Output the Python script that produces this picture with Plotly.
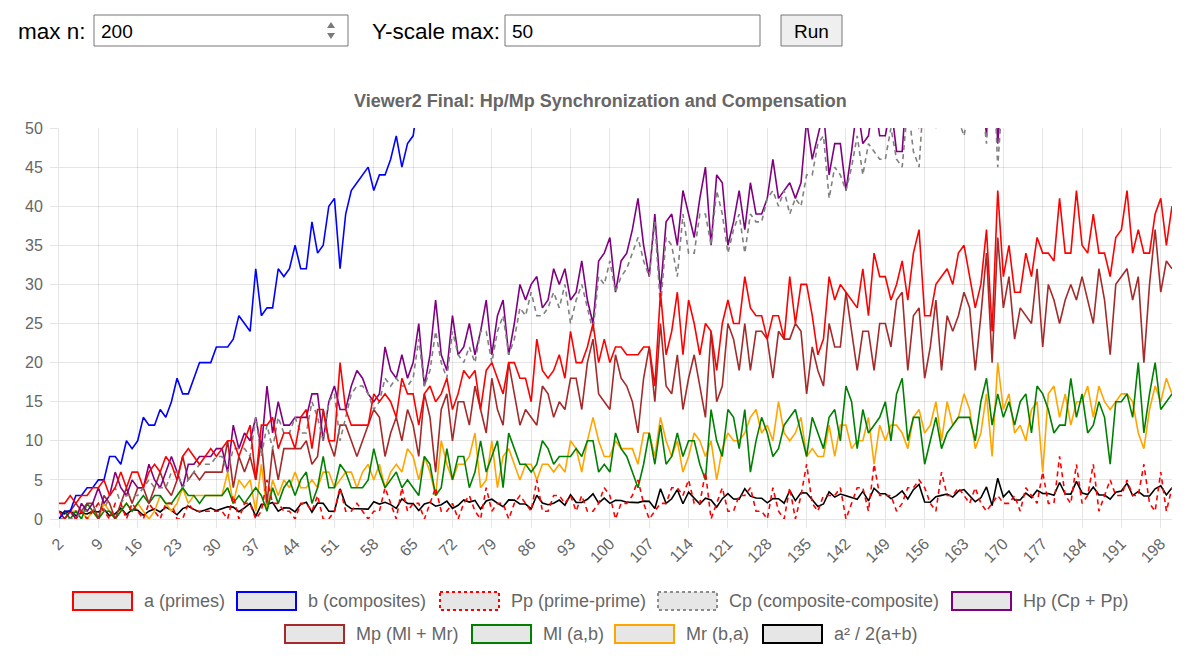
import plotly.graph_objects as go

# ---------------- data ----------------
n_values = list(range(2, 201))
x_tick_labels = [str(v) for v in range(2, 199, 7)]
y_tick_labels = ["0", "5", "10", "15", "20", "25", "30", "35", "40", "45", "50"]

a_primes = [
    2, 2, 3, 2, 3, 3, 4, 4, 5, 3, 4, 6, 4, 6, 6, 4, 6, 7, 6, 8,
    7, 5, 8, 9, 8, 7, 8, 9, 8, 9, 10, 10, 8, 10, 12, 5, 12, 12, 13, 9,
    11, 11, 9, 13, 14, 9, 14, 14, 10, 10, 20, 14, 12, 12, 12, 12, 16, 15, 16, 15,
    13, 18, 16, 16,
    12, 16, 17, 15, 16, 18, 14, 16, 19, 18,
    19, 14, 19, 20, 18, 16, 20, 20, 18, 18,
    15, 23, 19, 18, 19, 21, 18, 24, 20, 20,
    22, 25, 20, 23, 20, 22, 22, 21, 21, 21,
    22, 22, 17, 29, 21, 24, 29, 21, 28, 25,
    21, 25, 24, 19, 25, 28, 25, 25, 31, 27,
    26, 26, 23, 26, 26, 23, 31, 25, 30, 30,
    26, 21, 23, 31, 28, 30, 29, 28, 27, 32,
    26, 34, 31, 31, 28, 30, 33, 28, 34, 37,
    26, 26, 30, 31, 32, 30, 34, 35, 31, 27,
    30, 37, 24, 42, 31, 35, 29, 29, 34, 31,
    36, 34, 34, 33, 41, 34, 34, 42, 35, 34,
    39, 34, 34, 31, 36, 37, 42, 34, 37, 34,
    34, 39, 41, 35, 40,
]

b_composites = [
    0, 1, 1, 3, 3, 4, 4, 5, 5, 8, 8, 7, 10, 9, 10, 13, 12, 12, 14, 13,
    15, 18, 16, 16, 18, 20, 20, 20, 22, 22, 22, 23, 26, 25, 24, 32, 26, 27, 27, 32,
    31, 32, 35, 32, 32, 38, 34, 35, 40, 41, 32, 39, 42, 43, 44, 45, 42, 44, 44, 46,
    49, 45, 48, 49,
    54, 51, 51, 54, 54, 53, 58, 57, 55, 57,
    57, 63, 59, 59, 62, 65, 62, 63, 66, 67,
    71, 64, 69, 71, 71, 70, 74, 69, 74, 75,
    74, 72, 78, 76, 80, 79, 80, 82, 83, 84,
    84, 85, 91, 80, 89, 87, 83, 92, 86, 90,
    95, 92, 94, 100, 95, 93, 97, 98, 93, 98,
    100, 101, 105, 103, 104, 108, 101, 108, 104, 105,
    110, 116, 115, 108, 112, 111, 113, 115, 117, 113,
    120, 113, 117, 118, 122, 121, 119, 125, 120, 118,
    130, 131, 128, 128, 128, 131, 128, 128, 133, 138,
    136, 130, 144, 127, 139, 136, 143, 144, 140, 144,
    140, 143, 144, 146, 139, 147, 148, 141, 149, 151,
    147, 153, 154, 158, 154, 154, 150, 159, 157, 161,
    162, 158, 157, 164, 160,
]

pp_prime_prime = [
    1, 0, 1, 0, 1, 0, 1, 2, 1, 0, 2, 2, 0, 2, 1, 0, 2, 1, 0, 2,
    2, 0, 0, 2, 1, 1, 1, 1, 1, 1, 0, 3, 0, 2, 2, 0, 1, 5, 2, 2,
    1, 1, 0, 2, 2, 1, 3, 0, 0, 1, 4, 1, 1, 2, 1, 0, 1, 1, 4, 2,
    0, 4, 1, 2,
    2, 0, 2, 4, 1, 1, 2, 0, 2, 3,
    1, 0, 4, 1, 2, 2, 0, 2, 3, 2,
    1, 5, 1, 1, 3, 3, 2, 3, 1, 3,
    1, 1, 2, 4, 3, 0, 2, 2, 3, 5,
    2, 0, 1, 2, 2, 4, 4, 3, 5, 2,
    2, 6, 0, 2, 4, 1, 1, 3, 3, 4,
    1, 1, 0, 4, 1, 0, 4, 0, 3, 7,
    2, 1, 3, 3, 3, 4, 0, 2, 4, 4,
    1, 7, 3, 3, 3, 1, 2, 4, 4, 5,
    4, 2, 1, 6, 3, 3, 4, 3, 2, 4,
    2, 1, 2, 3, 2, 2, 3, 1, 4, 3,
    2, 6, 2, 2, 8, 3, 2, 7, 2, 3,
    7, 1, 3, 5, 3, 3, 5, 3, 3, 7,
    2, 1, 6, 1, 4,
]

cp_comp_comp = [
    0, 0, 0, 0, 1, 1, 1, 2, 1, 3, 4, 2, 3, 3, 3, 4, 5, 4, 4, 4,
    6, 6, 4, 5, 6, 7, 7, 7, 8, 8, 6, 9, 9, 9, 8, 13, 8, 12, 9, 13,
    11, 11, 13, 11, 11, 15, 13, 10, 15, 16, 10, 13, 16, 17, 17, 16, 14, 15, 18, 17,
    18, 17, 17, 18,
    23, 17, 19, 24, 20, 18, 24, 21, 20, 22,
    20, 24, 24, 20, 24, 26, 21, 23, 27, 26,
    29, 26, 26, 27, 29, 27, 30, 25, 28, 30,
    27, 24, 31, 30, 33, 29, 31, 32, 34, 36,
    33, 31, 38, 27, 36, 35, 31, 39, 34, 34,
    39, 39, 35, 42, 39, 34, 37, 39, 34, 39,
    38, 38, 41, 42, 40, 42, 39, 41, 40, 44,
    44, 48, 49, 41, 45, 44, 42, 45, 49, 44,
    48, 47, 46, 46, 50, 46, 45, 53, 47, 45,
    56, 54, 50, 54, 51, 53, 51, 49, 53, 59,
    55, 48, 62, 45, 56, 52, 60, 58, 57, 59,
    54, 60, 57, 59, 57, 59, 59, 56, 59, 61,
    61, 60, 63, 68, 62, 61, 59, 65, 63, 70,
    66, 60, 64, 65, 64,
]

hp_homog = [
    1, 0, 1, 0, 2, 1, 2, 4, 2, 3, 6, 4, 3, 5, 4, 4, 7, 5, 4, 6,
    8, 6, 4, 7, 7, 8, 8, 8, 9, 9, 6, 12, 9, 11, 10, 13, 9, 17, 11, 15,
    12, 12, 13, 13, 13, 16, 16, 10, 15, 17, 14, 14, 17, 19, 18, 16, 15, 16, 22, 19,
    18, 21, 18, 20,
    25, 17, 21, 28, 21, 19, 26, 21, 22, 25,
    21, 24, 28, 21, 26, 28, 21, 25, 30, 28,
    30, 31, 27, 28, 32, 30, 32, 28, 29, 33,
    28, 25, 33, 34, 36, 29, 33, 34, 37, 41,
    35, 31, 39, 29, 38, 39, 35, 42, 39, 36,
    41, 45, 35, 44, 43, 35, 38, 42, 37, 43,
    39, 39, 41, 46, 41, 42, 43, 41, 43, 51,
    46, 49, 52, 44, 48, 48, 42, 47, 53, 48,
    49, 54, 49, 49, 53, 47, 47, 57, 51, 50,
    60, 56, 51, 60, 54, 56, 55, 52, 55, 63,
    57, 49, 64, 48, 58, 54, 63, 59, 61, 62,
    56, 66, 59, 61, 65, 62, 61, 63, 61, 64,
    68, 61, 66, 73, 65, 64, 64, 68, 66, 77,
    68, 61, 70, 66, 68,
]

mp_mixed = [
    0, 1, 1, 2, 1, 2, 2, 0, 3, 2, 0, 2, 4, 2, 4, 4, 2, 4, 6, 4,
    3, 5, 8, 5, 6, 5, 6, 6, 6, 6, 10, 4, 8, 6, 8, 5, 10, 2, 9, 5,
    9, 9, 9, 9, 10, 7, 8, 14, 10, 8, 12, 12, 10, 8, 10, 12, 14, 13, 8, 11,
    13, 10, 14, 12,
    8, 16, 13, 6, 14, 16, 10, 15, 15, 12,
    17, 14, 11, 18, 14, 12, 20, 16, 12, 14,
    13, 12, 17, 16, 13, 15, 14, 18, 18, 14,
    20, 23, 16, 15, 14, 21, 18, 17, 15, 11,
    18, 22, 15, 25, 17, 16, 21, 14, 18, 21,
    17, 13, 24, 15, 17, 25, 23, 19, 25, 19,
    24, 24, 23, 18, 24, 23, 23, 25, 24, 16,
    22, 19, 17, 25, 22, 22, 29, 24, 19, 24,
    24, 19, 25, 25, 22, 28, 29, 19, 26, 27,
    18, 22, 28, 19, 26, 24, 26, 29, 27, 19,
    26, 34, 20, 36, 27, 31, 23, 27, 26, 25,
    32, 22, 30, 28, 25, 28, 30, 28, 31, 28,
    25, 32, 28, 21, 30, 31, 32, 28, 31, 20,
    30, 37, 29, 33, 32,
]

ml_ab = [
    0, 1, 0, 1, 0, 2, 1, 0, 1, 1, 0, 1, 2, 1, 2, 3, 2, 3, 3, 2,
    2, 3, 4, 3, 3, 2, 3, 3, 3, 3, 4, 2, 3, 2, 3, 4, 3, 1, 4, 2,
    4, 5, 3, 5, 6, 2, 4, 8, 4, 4, 7, 6, 4, 4, 4, 5, 9, 6, 4, 5,
    6, 4, 5, 4,
    3, 8, 7, 3, 4, 9, 5, 8, 8, 4,
    6, 10, 6, 8, 10, 4, 11, 9, 7, 7,
    6, 7, 10, 9, 7, 8, 8, 8, 9, 8,
    10, 10, 6, 7, 6, 11, 9, 8, 6, 4,
    7, 11, 7, 12, 7, 8, 11, 8, 10, 10,
    7, 5, 14, 10, 8, 14, 13, 9, 14, 6,
    10, 13, 11, 8, 9, 12, 13, 14, 11, 8,
    13, 11, 9, 13, 14, 10, 17, 15, 9, 14,
    11, 12, 13, 15, 10, 16, 18, 10, 13, 13,
    7, 10, 13, 9, 11, 12, 13, 13, 13, 10,
    15, 18, 12, 16, 13, 15, 12, 15, 16, 11,
    17, 16, 14, 11, 12, 12, 18, 13, 16, 11,
    12, 15, 13, 7, 15, 15, 16, 13, 20, 11,
    16, 20, 14, 15, 16,
]

mr_ba = [
    0, 0, 1, 1, 1, 0, 1, 0, 2, 1, 0, 1, 2, 1, 2, 1, 0, 1, 3, 2,
    1, 2, 4, 2, 3, 3, 3, 3, 3, 3, 6, 2, 5, 4, 5, 1, 7, 1, 5, 3,
    5, 4, 6, 4, 4, 5, 4, 6, 6, 4, 5, 6, 6, 4, 6, 7, 5, 7, 4, 6,
    7, 6, 9, 8,
    5, 8, 6, 3, 10, 7, 5, 7, 7, 8,
    11, 4, 5, 10, 4, 8, 9, 7, 5, 7,
    7, 5, 7, 7, 6, 7, 6, 10, 9, 6,
    10, 13, 10, 8, 8, 10, 9, 9, 9, 7,
    11, 11, 8, 13, 10, 8, 10, 6, 8, 11,
    10, 8, 10, 5, 9, 11, 10, 10, 11, 13,
    14, 11, 12, 10, 15, 11, 10, 11, 13, 8,
    9, 8, 8, 12, 8, 12, 12, 9, 10, 10,
    13, 7, 12, 10, 12, 12, 11, 9, 13, 14,
    11, 12, 15, 10, 15, 12, 13, 16, 14, 9,
    11, 16, 8, 20, 14, 16, 11, 12, 10, 14,
    15, 6, 16, 17, 13, 16, 12, 15, 15, 17,
    13, 17, 15, 14, 15, 16, 16, 15, 11, 9,
    14, 17, 15, 18, 16,
]

ratio_a2 = [
    1.00, 0.67, 1.13, 0.40, 0.75, 0.64, 1.00, 0.89, 1.25, 0.41,
    0.67, 1.38, 0.57, 1.20, 1.13, 0.47, 1.00, 1.29, 0.90, 1.52,
    1.11, 0.54, 1.33, 1.62, 1.23, 0.91, 1.14, 1.40, 1.07, 1.31,
    1.56, 1.52, 0.94, 1.43, 2.00, 0.34, 1.89, 1.85, 2.11, 0.99,
    1.44, 1.41, 0.92, 1.88, 2.13, 0.86, 2.04, 2.00, 1.00, 0.98,
    3.85, 1.85, 1.33, 1.31, 1.29, 1.26, 2.21, 1.91, 2.13, 1.84,
    1.36, 2.57, 2.00, 1.97,
    1.09, 1.91, 2.13, 1.63, 1.83, 2.28, 1.36, 1.75, 2.44, 2.16,
    2.38, 1.27, 2.31, 2.53, 2.03, 1.58, 2.44, 2.41, 1.93, 1.91,
    1.31, 3.04, 2.05, 1.82, 2.01, 2.42, 1.76, 3.10, 2.13, 2.11,
    2.52, 3.22, 2.04, 2.67, 2.00, 2.40, 2.37, 2.14, 2.12, 2.10,
    2.28, 2.26, 1.34, 3.86, 2.00, 2.59, 3.75, 1.95, 3.44, 2.72,
    1.90, 2.67, 2.44, 1.52, 2.60, 3.24, 2.56, 2.54, 3.88, 2.92,
    2.68, 2.66, 2.07, 2.62, 2.60, 2.02, 3.64, 2.35, 3.36, 3.33,
    2.49, 1.61, 1.92, 3.46, 2.80, 3.19, 2.96, 2.74, 2.53, 3.53,
    2.32, 3.93, 3.25, 3.22, 2.61, 2.98, 3.58, 2.56, 3.75, 4.42,
    2.17, 2.15, 2.85, 3.02, 3.20, 2.80, 3.57, 3.76, 2.93, 2.21,
    2.71, 4.10, 1.71, 5.22, 2.83, 3.58, 2.44, 2.43, 3.32, 2.75,
    3.68, 3.27, 3.25, 3.04, 4.67, 3.19, 3.18, 4.82, 3.33, 3.12,
    4.09, 3.09, 3.07, 2.54, 3.41, 3.58, 4.59, 2.99, 3.53, 2.96,
    2.95, 3.86, 4.24, 3.08, 4.00,
]

series_names = ["a (primes)", "b (composites)", "Pp (prime-prime)",
                "Cp (composite-composite)", "Hp (Cp + Pp)", "Mp (Ml + Mr)",
                "Ml (a,b)", "Mr (b,a)", "a\u00b2 / 2(a+b)"]

# ---------------- layout geometry (pixels) ----------------
W, H = 1191, 658
L_PX, R_PX, T_PX, B_PX = 59, 1172, 128, 519
FONT = "Liberation Sans, Arial, Helvetica, sans-serif"
GRID = "rgba(0,0,0,0.1)"
TXT = "#666666"


def fx(x):
    return (x - L_PX) / (R_PX - L_PX)


def fy(y):
    return (B_PX - y) / (B_PX - T_PX)


fig = go.Figure()

styles = [
    # (values, name, color, dash) in draw order: first dataset ends on top
    (ratio_a2, series_names[8], "#000000", None),
    (mr_ba, series_names[7], "#ffa500", None),
    (ml_ab, series_names[6], "#008000", None),
    (mp_mixed, series_names[5], "#a52a2a", None),
    (hp_homog, series_names[4], "#800080", None),
    (cp_comp_comp, series_names[3], "#808080", "5px,4px"),
    (pp_prime_prime, series_names[2], "#ff0000", "5px,4px"),
    (b_composites, series_names[1], "#0000ff", None),
    (a_primes, series_names[0], "#ff0000", None),
]
for vals, name, color, dash in styles:
    line = dict(color=color, width=1.6)
    if dash:
        line["dash"] = dash
    fig.add_trace(go.Scatter(x=n_values, y=vals, name=name, mode="lines",
                             line=line, hoverinfo="skip", showlegend=False))

shapes = []
annotations = []

# title
annotations.append(dict(x=fx(600), y=fy(101), xref="paper", yref="paper",
                        text="<b>Viewer2 Final: Hp/Mp Synchronization and Compensation</b>",
                        showarrow=False, xanchor="center", yanchor="middle",
                        font=dict(family=FONT, size=18, color=TXT)))

# custom legend (boxes + labels)
legend_items = [
    (series_names[0], "#ff0000", "solid", 73, 601),
    (series_names[1], "#0000ff", "solid", 237, 601),
    (series_names[2], "#ff0000", "dot", 440, 601),
    (series_names[3], "#8c8c8c", "dot", 658, 601),
    (series_names[4], "#800080", "solid", 952, 601),
    (series_names[5], "#a52a2a", "solid", 285, 634),
    (series_names[6], "#008000", "solid", 472, 634),
    (series_names[7], "#ffa500", "solid", 615, 634),
    (series_names[8], "#000000", "solid", 763, 634),
]
for name, color, dash, x0, yc in legend_items:
    shapes.append(dict(type="rect", xref="paper", yref="paper",
                       x0=fx(x0), x1=fx(x0 + 59), y0=fy(yc - 9), y1=fy(yc + 9),
                       fillcolor="#e6e6e6",
                       line=dict(color=color, width=2, dash=dash), layer="above"))
    annotations.append(dict(x=fx(x0 + 69), y=fy(yc), xref="paper", yref="paper",
                            text=name, showarrow=False, xanchor="left", yanchor="middle",
                            font=dict(family=FONT, size=18, color=TXT)))

# top controls (form row)
def box(x0, x1, y0, y1, fill, border):
    shapes.append(dict(type="rect", xref="paper", yref="paper",
                       x0=fx(x0), x1=fx(x1), y0=fy(y1), y1=fy(y0),
                       fillcolor=fill, line=dict(color=border, width=1)))


def label(x, y, text, size, anchor="left", color="#000000"):
    annotations.append(dict(x=fx(x), y=fy(y), xref="paper", yref="paper", text=text,
                            showarrow=False, xanchor=anchor, yanchor="middle",
                            font=dict(family=FONT, size=size, color=color)))


label(16, 31, "max n:", 22.5)
box(94, 348, 15, 46, "#ffffff", "#767676")
label(99, 31, "200", 19)
label(370, 31, "Y-scale max:", 22.5)
box(505, 760, 15, 46, "#ffffff", "#767676")
label(510, 31, "50", 19)
box(781, 842, 15, 46, "#efefef", "#767676")
label(811.5, 31, "Run", 19, anchor="center")


def tri(points):
    p = "M " + " L ".join(f"{fx(x):.5f},{fy(y):.5f}" for x, y in points) + " Z"
    shapes.append(dict(type="path", xref="paper", yref="paper", path=p,
                       fillcolor="#7a7a7a", line=dict(width=0)))


tri([(327, 28), (335, 28), (331, 22)])
tri([(327, 33), (335, 33), (331, 39)])

fig.update_layout(
    width=W, height=H, autosize=False,
    margin=dict(l=L_PX, r=W - R_PX, t=T_PX, b=H - B_PX, pad=0),
    paper_bgcolor="#ffffff", plot_bgcolor="#ffffff",
    font=dict(family=FONT, size=16, color=TXT),
    shapes=shapes, annotations=annotations,
    showlegend=False,
    xaxis=dict(range=[2, 200], tickmode="array",
               tickvals=[int(t) for t in x_tick_labels], ticktext=x_tick_labels,
               tickangle=-45, showgrid=True, gridcolor=GRID, gridwidth=1,
               ticks="outside", ticklen=8, tickcolor=GRID,
               showline=True, linecolor=GRID, linewidth=1, zeroline=False,
               tickfont=dict(family=FONT, size=16, color=TXT), fixedrange=True),
    yaxis=dict(range=[0, 50], tickmode="array",
               tickvals=[int(t) for t in y_tick_labels], ticktext=y_tick_labels,
               showgrid=True, gridcolor=GRID, gridwidth=1,
               ticks="outside", ticklen=8, tickcolor=GRID, ticklabelstandoff=4,
               showline=True, linecolor=GRID, linewidth=1, zeroline=False,
               tickfont=dict(family=FONT, size=16, color=TXT), fixedrange=True),
)

fig.write_html("out.html", config={"displayModeBar": False},
               post_script="document.body.style.margin='0px';document.body.style.overflow='hidden';")
